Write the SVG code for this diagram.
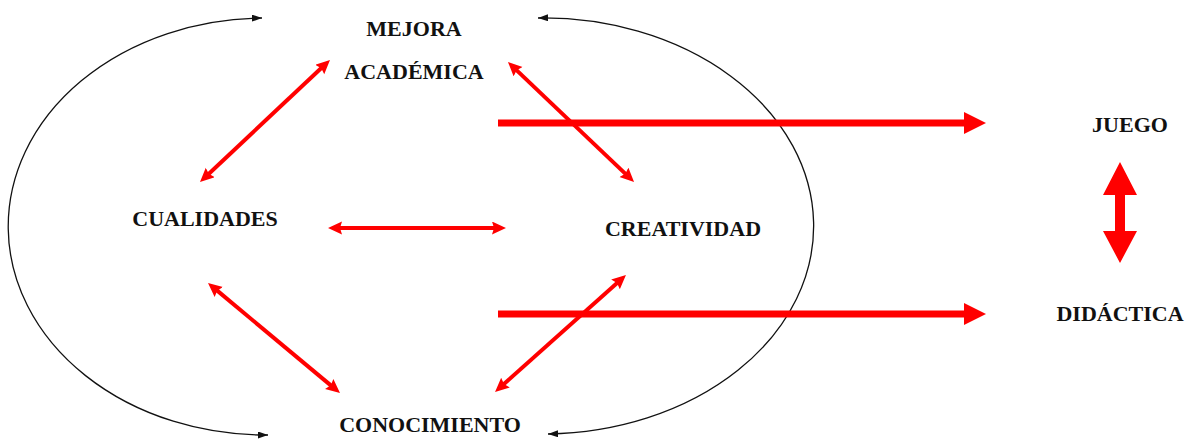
<svg xmlns="http://www.w3.org/2000/svg" width="1188" height="440" viewBox="0 0 1188 440">
<style>
.lbl{font-family:"Liberation Serif","Times New Roman",serif;font-weight:bold;font-size:22px;fill:#111;text-anchor:middle}
.arc{fill:none;stroke:#111;stroke-width:1.3}
.thin{fill:none;stroke:#ff0000;stroke-width:4}
.thick{fill:none;stroke:#ff0000;stroke-width:7}
</style>
<defs>
<marker id="blk" markerUnits="userSpaceOnUse" markerWidth="12" markerHeight="9" refX="10" refY="3.5" orient="auto-start-reverse"><path d="M0,0 L10,3.5 L0,7 z" fill="#111"/></marker>
<marker id="red" markerUnits="userSpaceOnUse" markerWidth="16" markerHeight="14" refX="4" refY="6.5" orient="auto-start-reverse"><path d="M0,0 L14,6.5 L0,13 L2,6.5 z" fill="#ff0000"/></marker>
<marker id="redBig" markerUnits="userSpaceOnUse" markerWidth="24" markerHeight="24" refX="2" refY="11" orient="auto"><path d="M0,0 L22,11 L0,22 z" fill="#ff0000"/></marker>
</defs>
<g id="connectors">
<path class="arc" d="M262,18 A255 207 0 0 0 268,435" marker-start="url(#blk)" marker-end="url(#blk)"/>
<path class="arc" d="M538,18 A268 206 0 0 1 548,434" marker-start="url(#blk)" marker-end="url(#blk)"/>
<line class="thin" x1="322.7" y1="66.8" x2="207.3" y2="175.2" marker-start="url(#red)" marker-end="url(#red)"/>
<line class="thin" x1="515.2" y1="68.9" x2="626.8" y2="175.1" marker-start="url(#red)" marker-end="url(#red)"/>
<line class="thin" x1="338" y1="228" x2="496" y2="228" marker-start="url(#red)" marker-end="url(#red)"/>
<line class="thin" x1="215.7" y1="289.4" x2="332.3" y2="386.6" marker-start="url(#red)" marker-end="url(#red)"/>
<line class="thin" x1="618.5" y1="281.7" x2="502.5" y2="385.3" marker-start="url(#red)" marker-end="url(#red)"/>
<line class="thick" x1="498" y1="123" x2="966" y2="123" marker-end="url(#redBig)"/>
<line class="thick" x1="498" y1="314" x2="966" y2="314" marker-end="url(#redBig)"/>
<polygon points="1120,162 1137,195 1125,195 1125,231 1137,231 1120,263 1103,231 1115,231 1115,195 1103,195" fill="#ff0000"/>
</g>
<g id="mejora"><text class="lbl" x="414" y="36">MEJORA</text><text class="lbl" x="414" y="79">ACADÉMICA</text></g>
<g id="cualidades"><text class="lbl" x="205" y="226">CUALIDADES</text></g>
<g id="creatividad"><text class="lbl" x="683" y="236">CREATIVIDAD</text></g>
<g id="conocimiento"><text class="lbl" x="430" y="432">CONOCIMIENTO</text></g>
<g id="juego"><text class="lbl" x="1130" y="132">JUEGO</text></g>
<g id="didactica"><text class="lbl" x="1120" y="321">DIDÁCTICA</text></g>
</svg>
